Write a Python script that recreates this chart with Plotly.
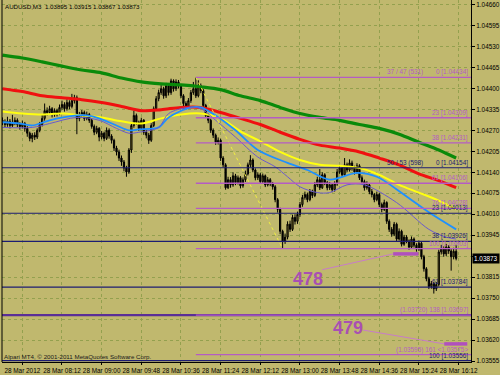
import plotly.graph_objects as go

# ---------------- data ----------------
closes = [1.04295, 1.04288, 1.04298, 1.04285, 1.04291, 1.04301, 1.04288, 1.04282, 1.04291, 1.04276,
          1.04261, 1.04245, 1.04255, 1.04249, 1.04270, 1.04288, 1.04307, 1.04331, 1.04325, 1.04337,
          1.04319, 1.04331, 1.04322, 1.04341, 1.04350, 1.04337, 1.04356, 1.04344, 1.04362, 1.04371,
          1.04307, 1.04316, 1.04325, 1.04307, 1.04319, 1.04301, 1.04282, 1.04264, 1.04276, 1.04249,
          1.04261, 1.04245, 1.04270, 1.04252, 1.04239, 1.04215, 1.04203, 1.04184, 1.04172, 1.04153,
          1.04141, 1.04209, 1.04285, 1.04316, 1.04295, 1.04276, 1.04301, 1.04264, 1.04255, 1.04239,
          1.04285, 1.04337, 1.04368, 1.04387, 1.04399, 1.04377, 1.04408, 1.04387, 1.04423, 1.04399,
          1.04420, 1.04408, 1.04377, 1.04353, 1.04344, 1.04362, 1.04387, 1.04399, 1.04377, 1.04408,
          1.04393, 1.04347, 1.04316, 1.04301, 1.04270, 1.04255, 1.04233, 1.04239, 1.04184, 1.04163,
          1.04092, 1.04117, 1.04101, 1.04129, 1.04108, 1.04123, 1.04098, 1.04117, 1.04135, 1.04163,
          1.04178, 1.04147, 1.04123, 1.04132, 1.04111, 1.04129, 1.04101, 1.04117, 1.04104, 1.04095,
          1.04055, 1.04025, 1.03957, 1.03927, 1.03939, 1.03979, 1.03963, 1.04000, 1.03988, 1.04009,
          1.04040, 1.04062, 1.04071, 1.04055, 1.04080, 1.04068, 1.04101, 1.04117, 1.04092, 1.04132,
          1.04108, 1.04092, 1.04101, 1.04086, 1.04104, 1.04141, 1.04153, 1.04132, 1.04163, 1.04147,
          1.04169, 1.04153, 1.04141, 1.04160, 1.04123, 1.04111, 1.04092, 1.04101, 1.04080, 1.04071,
          1.04055, 1.04071, 1.04040, 1.04025, 1.04046, 1.03988, 1.03963, 1.03948, 1.03979, 1.03933,
          1.03957, 1.03917, 1.03939, 1.03927, 1.03908, 1.03933, 1.03914, 1.03902, 1.03920, 1.03878,
          1.03841, 1.03810, 1.03786, 1.03795, 1.03779, 1.03792, 1.03893, 1.03902, 1.03887, 1.03908,
          1.03896, 1.03878, 1.03895, 1.03873]

opens = [1.04301, 1.04295, 1.04288, 1.04298, 1.04285, 1.04291, 1.04301, 1.04288, 1.04282, 1.04291,
         1.04276, 1.04261, 1.04245, 1.04255, 1.04249, 1.04270, 1.04288, 1.04307, 1.04331, 1.04325,
         1.04337, 1.04319, 1.04331, 1.04322, 1.04341, 1.04350, 1.04337, 1.04356, 1.04344, 1.04362,
         1.04371, 1.04307, 1.04316, 1.04325, 1.04307, 1.04319, 1.04301, 1.04282, 1.04264, 1.04276,
         1.04249, 1.04261, 1.04245, 1.04270, 1.04252, 1.04239, 1.04215, 1.04203, 1.04184, 1.04172,
         1.04153, 1.04141, 1.04209, 1.04285, 1.04316, 1.04295, 1.04276, 1.04301, 1.04264, 1.04255,
         1.04239, 1.04285, 1.04337, 1.04368, 1.04387, 1.04399, 1.04377, 1.04408, 1.04387, 1.04423,
         1.04399, 1.04420, 1.04408, 1.04377, 1.04353, 1.04344, 1.04362, 1.04387, 1.04399, 1.04377,
         1.04408, 1.04393, 1.04347, 1.04316, 1.04301, 1.04270, 1.04255, 1.04233, 1.04239, 1.04184,
         1.04163, 1.04092, 1.04117, 1.04101, 1.04129, 1.04108, 1.04123, 1.04098, 1.04117, 1.04135,
         1.04163, 1.04178, 1.04147, 1.04123, 1.04132, 1.04111, 1.04129, 1.04101, 1.04117, 1.04104,
         1.04095, 1.04055, 1.04025, 1.03957, 1.03927, 1.03939, 1.03979, 1.03963, 1.04000, 1.03988,
         1.04009, 1.04040, 1.04062, 1.04071, 1.04055, 1.04080, 1.04068, 1.04101, 1.04117, 1.04092,
         1.04132, 1.04108, 1.04092, 1.04101, 1.04086, 1.04104, 1.04141, 1.04153, 1.04132, 1.04163,
         1.04147, 1.04169, 1.04153, 1.04141, 1.04160, 1.04123, 1.04111, 1.04092, 1.04101, 1.04080,
         1.04071, 1.04055, 1.04071, 1.04040, 1.04025, 1.04046, 1.03988, 1.03963, 1.03948, 1.03979,
         1.03933, 1.03957, 1.03917, 1.03939, 1.03927, 1.03908, 1.03933, 1.03914, 1.03902, 1.03920,
         1.03878, 1.03841, 1.03810, 1.03786, 1.03795, 1.03779, 1.03792, 1.03893, 1.03902, 1.03887,
         1.03908, 1.03896, 1.03878, 1.03895]

highs = [1.04310, 1.04304, 1.04312, 1.04305, 1.04318, 1.04310, 1.04307, 1.04295, 1.04300, 1.04296,
         1.04283, 1.04266, 1.04262, 1.04264, 1.04276, 1.04296, 1.04320, 1.04353, 1.04341, 1.04346,
         1.04342, 1.04338, 1.04337, 1.04350, 1.04362, 1.04357, 1.04366, 1.04363, 1.04383, 1.04380,
         1.04378, 1.04327, 1.04333, 1.04331, 1.04328, 1.04324, 1.04306, 1.04288, 1.04284, 1.04280,
         1.04268, 1.04266, 1.04279, 1.04276, 1.04258, 1.04244, 1.04222, 1.04210, 1.04192, 1.04178,
         1.04160, 1.04215, 1.04292, 1.04331, 1.04322, 1.04300, 1.04309, 1.04305, 1.04272, 1.04262,
         1.04292, 1.04344, 1.04376, 1.04396, 1.04410, 1.04405, 1.04417, 1.04414, 1.04430, 1.04428,
         1.04428, 1.04426, 1.04413, 1.04382, 1.04360, 1.04370, 1.04395, 1.04420, 1.04434, 1.04425,
         1.04415, 1.04398, 1.04352, 1.04322, 1.04306, 1.04276, 1.04260, 1.04248, 1.04244, 1.04190,
         1.04168, 1.04126, 1.04125, 1.04140, 1.04135, 1.04130, 1.04128, 1.04124, 1.04145, 1.04170,
         1.04193, 1.04183, 1.04152, 1.04140, 1.04138, 1.04136, 1.04133, 1.04125, 1.04122, 1.04110,
         1.04100, 1.04060, 1.04030, 1.03962, 1.03950, 1.03988, 1.03990, 1.04008, 1.04010, 1.04018,
         1.04048, 1.04070, 1.04080, 1.04077, 1.04088, 1.04086, 1.04110, 1.04126, 1.04150, 1.04140,
         1.04137, 1.04113, 1.04110, 1.04106, 1.04112, 1.04150, 1.04162, 1.04160, 1.04184, 1.04170,
         1.04180, 1.04176, 1.04160, 1.04168, 1.04165, 1.04130, 1.04117, 1.04112, 1.04106, 1.04088,
         1.04076, 1.04080, 1.04076, 1.04046, 1.04055, 1.04050, 1.03994, 1.03970, 1.03986, 1.03984,
         1.03966, 1.03962, 1.03946, 1.03945, 1.03932, 1.03941, 1.03938, 1.03920, 1.03928, 1.03925,
         1.03884, 1.03846, 1.03816, 1.03803, 1.03800, 1.03800, 1.03900, 1.03915, 1.03910, 1.03918,
         1.03914, 1.03902, 1.03906, 1.03915]

lows = [1.04286, 1.04279, 1.04281, 1.04276, 1.04280, 1.04286, 1.04280, 1.04272, 1.04276, 1.04266,
        1.04250, 1.04236, 1.04233, 1.04240, 1.04243, 1.04264, 1.04282, 1.04300, 1.04316, 1.04318,
        1.04310, 1.04312, 1.04313, 1.04317, 1.04334, 1.04328, 1.04331, 1.04335, 1.04338, 1.04353,
        1.04258, 1.04298, 1.04309, 1.04299, 1.04301, 1.04293, 1.04275, 1.04255, 1.04258, 1.04236,
        1.04242, 1.04236, 1.04240, 1.04244, 1.04229, 1.04206, 1.04192, 1.04175, 1.04160, 1.04143,
        1.04126, 1.04135, 1.04200, 1.04278, 1.04287, 1.04268, 1.04270, 1.04256, 1.04245, 1.04228,
        1.04234, 1.04280, 1.04330, 1.04360, 1.04380, 1.04368, 1.04370, 1.04378, 1.04380, 1.04390,
        1.04392, 1.04400, 1.04370, 1.04344, 1.04335, 1.04338, 1.04355, 1.04380, 1.04370, 1.04372,
        1.04385, 1.04340, 1.04308, 1.04292, 1.04262, 1.04246, 1.04225, 1.04226, 1.04175, 1.04155,
        1.04086, 1.04088, 1.04092, 1.04095, 1.04100, 1.04102, 1.04090, 1.04092, 1.04110, 1.04130,
        1.04155, 1.04140, 1.04115, 1.04116, 1.04104, 1.04106, 1.04094, 1.04096, 1.04097, 1.04086,
        1.04047, 1.04015, 1.03948, 1.03903, 1.03918, 1.03932, 1.03955, 1.03958, 1.03978, 1.03980,
        1.04002, 1.04033, 1.04055, 1.04047, 1.04050, 1.04060, 1.04063, 1.04094, 1.04085, 1.04088,
        1.04100, 1.04084, 1.04085, 1.04078, 1.04080, 1.04098, 1.04135, 1.04125, 1.04128, 1.04140,
        1.04142, 1.04145, 1.04133, 1.04135, 1.04116, 1.04103, 1.04083, 1.04086, 1.04072, 1.04062,
        1.04047, 1.04050, 1.04032, 1.04016, 1.04020, 1.03980, 1.03955, 1.03940, 1.03942, 1.03925,
        1.03928, 1.03910, 1.03912, 1.03920, 1.03900, 1.03903, 1.03907, 1.03894, 1.03896, 1.03870,
        1.03832, 1.03802, 1.03778, 1.03779, 1.03764, 1.03772, 1.03786, 1.03885, 1.03878, 1.03880,
        1.03887, 1.03835, 1.03870, 1.03867]

bars = list(range(len(closes)))

# moving averages (bar index, value)
ma_green_idx = [0, 8, 16, 24, 32, 40, 48, 56, 64, 72, 80, 88, 96, 104, 112, 120, 128, 136, 144, 152, 160, 168, 176, 183]
ma_green = [1.04503, 1.04494, 1.04482, 1.04469, 1.04457, 1.04448, 1.04432, 1.04420, 1.04414, 1.04411, 1.04405, 1.04396,
            1.04377, 1.04362, 1.04341, 1.04322, 1.04310, 1.04301, 1.04288, 1.04276, 1.04258, 1.04233, 1.04209, 1.04184]
ma_red_idx = ma_green_idx
ma_red = [1.04399, 1.04390, 1.04377, 1.04371, 1.04365, 1.04356, 1.04344, 1.04331, 1.04334, 1.04341, 1.04341, 1.04325,
          1.04307, 1.04288, 1.04264, 1.04242, 1.04224, 1.04215, 1.04203, 1.04184, 1.04163, 1.04135, 1.04114, 1.04092]
ma_yellow_idx = ma_green_idx
ma_yellow = [1.04328, 1.04322, 1.04319, 1.04322, 1.04316, 1.04310, 1.04298, 1.04291, 1.04307, 1.04319, 1.04322, 1.04307,
             1.04267, 1.04236, 1.04203, 1.04178, 1.04163, 1.04160, 1.04153, 1.04132, 1.04101, 1.04077, 1.04052, 1.04025]
ma_blue_idx = [0, 7, 12, 19, 30, 34, 39, 46, 51, 55, 63, 67, 76, 80, 86, 94, 103, 115, 123, 132, 143, 151, 163, 172, 183]
ma_blue = [1.04295, 1.04291, 1.04285, 1.04301, 1.04316, 1.04316, 1.04307, 1.04285, 1.04270, 1.04273, 1.04279, 1.04310,
           1.04341, 1.04341, 1.04316, 1.04270, 1.04209, 1.04169, 1.04147, 1.04117, 1.04138, 1.04126, 1.04065, 1.04016, 1.03963]
ma_slate_idx = [0, 12, 19, 30, 39, 46, 51, 55, 63, 67, 75, 80, 86, 94, 103, 110, 115, 120, 127, 132, 139, 146, 159, 172, 179, 183]
ma_slate = [1.04279, 1.04279, 1.04291, 1.04310, 1.04301, 1.04276, 1.04261, 1.04264, 1.04279, 1.04322, 1.04341, 1.04337,
            1.04301, 1.04249, 1.04187, 1.04157, 1.04126, 1.04095, 1.04077, 1.04077, 1.04101, 1.04101, 1.04046, 1.03963, 1.03939, 1.03933]

# Fibonacci objects
fib_p_start = 78
fib_p_levels = [1.04434, 1.04309, 1.04231, 1.04106, 1.04028, 1.03903, 1.03697, 1.03575]
fib_p_labels = ["0 [1.04434]", "23 [1.04309]", "38 [1.04231]", "61 [1.04106]", "76 [1.04028]",
                "100 [1.03903]", "(1.03720) 138 [1.03697]", "(1.03595) 161 <1.03575>"]
fib_p_base = [(78, 1.04434), (113, 1.03903)]
fib_n_levels = [1.04154, 1.04013, 1.03926, 1.03784, 1.03556]
fib_n_labels = ["0 [1.04154]", "23 [1.04013]", "38 [1.03926]", "61 [1.03784]", "100 [1.03556]"]
fib_p_title = "37 / 47 (531)"
fib_n_title = "50 / 53 (598)"
target_line = 1.03697

# wave marks
wave_labels = ["478", "479"]
wave_text_pos = [(123.4, 1.03810), (139.4, 1.03657)]
wave_link_from = [(129.0, 1.03838), (145.4, 1.03651)]
wave_bar = [(157.6, 167.8, 1.03887), (178.2, 187.5, 1.03608)]

# axes
price_ticks = [1.03555, 1.03620, 1.03685, 1.03750, 1.03815, 1.03880, 1.03945, 1.04010, 1.04075,
               1.04140, 1.04205, 1.04270, 1.04335, 1.04400, 1.04465, 1.04530, 1.04595, 1.04660]
time_tick_idx = [8, 24, 40, 56, 72, 88, 104, 120, 136, 152, 168, 184]
time_tick_text = ["28 Mar 2012", "28 Mar 08:12", "28 Mar 09:00", "28 Mar 09:48", "28 Mar 10:36", "28 Mar 11:24",
                  "28 Mar 12:12", "28 Mar 13:00", "28 Mar 13:48", "28 Mar 14:36", "28 Mar 15:24", "28 Mar 16:12"]
header = "AUDUSD,M3  1.03895 1.03915 1.03867 1.03873"
footer = "Alpari MT4, © 2001-2011 MetaQuotes Software Corp."
last_price = 1.03873
last_price_text = "1.03873"

# ---------------- styling ----------------
BG = "#C0B86E"
GRID = "#93A04E"
PURPLE = "#B45CC4"
NAVY = "#1C1C72"
FONT = "Liberation Sans"
X_MIN, X_MAX = -0.2, 189.0
Y_MIN, Y_MAX = 1.035519, 1.046739
SMALL = 6.4

# the last-price tag hides the nearest axis label
price_tick_text = ["" if abs(v - last_price) < 0.0002 else "%.5f" % v for v in price_ticks]

fig = go.Figure()

fig.add_trace(go.Candlestick(
    x=bars, open=opens, high=highs, low=lows, close=closes,
    increasing=dict(line=dict(color="black", width=1), fillcolor="#8A7A26"),
    decreasing=dict(line=dict(color="black", width=1), fillcolor="black"),
    whiskerwidth=0, hoverinfo="skip", showlegend=False))

for idx, vals, col, w in [(ma_green_idx, ma_green, "#0A8A0A", 3.2),
                          (ma_red_idx, ma_red, "#F01010", 3.0),
                          (ma_yellow_idx, ma_yellow, "#FFFF10", 2.0),
                          (ma_blue_idx, ma_blue, "#1E90FF", 1.8),
                          (ma_slate_idx, ma_slate, "#6A5ACD", 1.0)]:
    fig.add_trace(go.Scatter(x=idx, y=vals, mode="lines",
                             line=dict(color=col, width=w, shape="spline", smoothing=0.9),
                             hoverinfo="skip", showlegend=False))

shapes = []
annotations = []

# fibo base line (dotted yellow)
shapes.append(dict(type="line", xref="x", yref="y", x0=fib_p_base[0][0], y0=fib_p_base[0][1],
                   x1=fib_p_base[1][0], y1=fib_p_base[1][1], line=dict(color="#F0F040", width=1, dash="dot")))

# navy fib levels: full width
for lv, lab in zip(fib_n_levels, fib_n_labels):
    shapes.append(dict(type="line", xref="paper", yref="y", x0=0, x1=1, y0=lv, y1=lv,
                       line=dict(color=NAVY, width=1.2)))
    annotations.append(dict(xref="paper", yref="y", x=0.998, y=lv, text=lab, showarrow=False,
                            xanchor="right", yanchor="bottom", yshift=-1,
                            font=dict(family=FONT, size=SMALL, color=NAVY)))
# thick target line
shapes.append(dict(type="line", xref="paper", yref="y", x0=0, x1=1, y0=target_line, y1=target_line,
                   line=dict(color="#5A2E96", width=2.2)))

# purple fib levels from the swing high to the right edge
for lv, lab in zip(fib_p_levels, fib_p_labels):
    shapes.append(dict(type="line", xref="x", yref="y", x0=fib_p_start, x1=X_MAX, y0=lv, y1=lv,
                       line=dict(color=PURPLE, width=1.3)))
    annotations.append(dict(xref="paper", yref="y", x=0.998, y=lv, text=lab, showarrow=False,
                            xanchor="right", yanchor="bottom", yshift=-1,
                            font=dict(family=FONT, size=SMALL, color=PURPLE)))

annotations.append(dict(xref="x", yref="y", x=170.6, y=fib_p_levels[0], text=fib_p_title, showarrow=False,
                        xanchor="right", yanchor="bottom", yshift=-1, font=dict(family=FONT, size=SMALL, color=PURPLE)))
annotations.append(dict(xref="x", yref="y", x=170.6, y=fib_n_levels[0], text=fib_n_title, showarrow=False,
                        xanchor="right", yanchor="bottom", yshift=-1, font=dict(family=FONT, size=SMALL, color=NAVY)))

# wave marks
for lab, (tx, ty), (lx, ly), (bx0, bx1, by) in zip(wave_labels, wave_text_pos, wave_link_from, wave_bar):
    shapes.append(dict(type="line", xref="x", yref="y", x0=lx, y0=ly, x1=bx0, y1=by,
                       line=dict(color="#C87CC8", width=1)))
    shapes.append(dict(type="line", xref="x", yref="y", x0=bx0, y0=by, x1=bx1, y1=by,
                       line=dict(color="#B050BE", width=3.5)))
    annotations.append(dict(xref="x", yref="y", x=tx, y=ty, text="<b>%s</b>" % lab, showarrow=False,
                            font=dict(family=FONT, size=18, color="#A94FB3")))

# header / footer
annotations.append(dict(xref="paper", yref="paper", x=0.002, y=0.998, text=header, showarrow=False,
                        xanchor="left", yanchor="top", font=dict(family=FONT, size=6.2, color="black")))
annotations.append(dict(xref="paper", yref="paper", x=0.0, y=0.0, text=footer, showarrow=False,
                        xanchor="left", yanchor="bottom", yshift=0, font=dict(family=FONT, size=6.2, color="#1a1a1a")))

# last price tag
annotations.append(dict(xref="paper", yref="y", x=1.0, y=last_price, text=last_price_text, showarrow=False,
                        xanchor="left", yanchor="middle", xshift=1, bgcolor="black", borderpad=1,
                        font=dict(family=FONT, size=SMALL, color="white")))

# left frame
shapes.append(dict(type="line", xref="paper", yref="paper", x0=0, x1=0, y0=0, y1=1,
                   line=dict(color="black", width=1)))

fig.update_layout(
    width=500, height=375,
    margin=dict(l=2, r=25, t=0, b=13),
    paper_bgcolor=BG, plot_bgcolor=BG,
    shapes=shapes, annotations=annotations,
    showlegend=False,
    xaxis=dict(range=[X_MIN, X_MAX], rangeslider=dict(visible=False),
               tickmode="array", tickvals=time_tick_idx, ticktext=time_tick_text, tickangle=0,
               showgrid=True, gridcolor=GRID, griddash="dot", gridwidth=1,
               showline=True, linecolor="black", linewidth=1,
               ticks="outside", ticklen=2, tickcolor="black",
               tickfont=dict(family=FONT, size=SMALL, color="black"), zeroline=False),
    yaxis=dict(range=[Y_MIN, Y_MAX], side="right",
               tickmode="array", tickvals=price_ticks, ticktext=price_tick_text,
               showgrid=True, gridcolor=GRID, griddash="dot", gridwidth=1,
               showline=True, linecolor="black", linewidth=1,
               ticks="outside", ticklen=3, tickcolor="black",
               tickfont=dict(family=FONT, size=SMALL, color="black"), zeroline=False),
)

fig.write_html("out.html")
